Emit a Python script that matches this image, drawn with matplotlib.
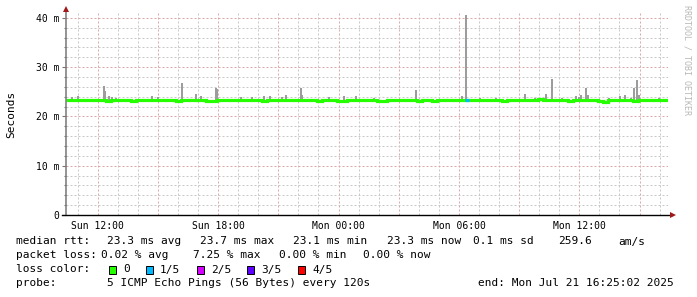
import numpy as np
import matplotlib
matplotlib.use("Agg")
import matplotlib.pyplot as plt
from matplotlib.patches import Rectangle

plt.rcParams['font.family'] = ['DejaVu Sans Mono', 'DejaVu Sans']
plt.rcParams['lines.scale_dashes'] = False

W, H = 697, 297

# time axis in hours since Sun 00:00 (Jul 20 2025)
start_h = 10.417   # Sun 10:25
end_h = 40.417     # Mon 16:25
step_h = 0.25      # median sampled every 15 min

median_ms = [
    23.3, 23.3, 23.3, 23.3, 23.3, 23.4, 23.3, 23.3, 23.2, 23.3, 23.3, 23.3,
    23.3, 23.2, 23.3, 23.3, 23.3, 23.3, 23.4, 23.3, 23.3, 23.3, 23.2, 23.3,
    23.3, 23.3, 23.3, 23.3, 23.2, 23.1, 23.3, 23.3, 23.3, 23.3, 23.3, 23.4,
    23.3, 23.3, 23.3, 23.2, 23.3, 23.3, 23.3, 23.3, 23.3, 23.4, 23.3, 23.3,
    23.3, 23.3, 23.2, 23.3, 23.3, 23.3, 23.2, 23.1, 23.3, 23.3, 23.3, 23.3,
    23.3, 23.3, 23.2, 23.1, 23.3, 23.3, 23.3, 23.3, 23.3, 23.3, 23.2, 23.3,
    23.3, 23.1, 23.3, 23.3, 23.3, 23.3, 23.3, 23.3, 23.4, 23.3, 23.3, 23.3,
    23.3, 23.3, 23.3, 23.2, 23.3, 23.3, 23.3, 23.3, 23.3, 23.4, 23.6, 23.3,
    23.3, 23.3, 23.3, 23.3, 23.2, 23.3, 23.3, 23.3, 23.3, 23.3, 23.2, 23.0,
    23.3, 23.3, 23.3, 23.3, 23.3, 23.2, 23.3, 23.3, 23.3, 23.3, 23.3, 23.3,
]

# smoke: max rtt peaks above the median
smoke_hours = [10.70, 11.00, 12.30, 12.35, 12.55, 12.70, 12.90, 14.69, 14.99,
               16.19, 16.88, 17.13, 17.88, 17.93, 19.13, 19.67, 20.27, 20.57,
               21.17, 21.37, 22.12, 22.17, 23.51, 24.26, 24.86, 25.75, 27.85,
               30.14, 30.34, 31.04, 31.83, 33.28, 33.78, 34.33, 34.62, 35.12,
               35.82, 35.97, 36.07, 36.32, 36.42, 37.46, 38.01, 38.26, 38.56,
               38.71, 38.86, 38.96, 39.96]
smoke_max_ms = [24.0, 24.2, 26.2, 25.2, 24.2, 24.0, 23.8, 24.2, 24.0,
                26.8, 24.6, 24.2, 25.8, 25.6, 24.0, 24.0, 24.2, 24.2,
                24.0, 24.4, 25.8, 24.4, 24.0, 24.2, 24.2, 23.8, 25.4,
                24.2, 40.6, 23.8, 23.8, 24.6, 23.8, 24.6, 27.6, 23.8,
                24.2, 24.0, 24.4, 25.8, 24.4, 23.8, 24.2, 24.4, 23.8,
                25.8, 27.4, 24.4, 23.8]

loss_hours = [30.40]
loss_count = [1]

loss_labels = ["0", "1/5", "2/5", "3/5", "4/5"]
loss_colors = ["#26ff00", "#00b8ff", "#d400ff", "#5e00ff", "#ff0000"]

xtick_hours = [12, 18, 24, 30, 36]
xtick_labels = ["Sun 12:00", "Sun 18:00", "Mon 00:00", "Mon 06:00", "Mon 12:00"]
ytick_ms = [0, 10, 20, 30, 40]
ytick_labels = ["0", "10 m", "20 m", "30 m", "40 m"]

fig = plt.figure(figsize=(W / 100, H / 100), dpi=100)
fig.patch.set_facecolor("white")
ax = fig.add_axes([66 / W, (H - 215) / H, 602 / W, 202 / H])
ax.set_xlim(start_h, end_h)
ax.set_ylim(0, 41.0)
for s in ax.spines.values():
    s.set_visible(False)

# grid
minor_c, major_c = "#c8c8c8", "#dca8a8"
for h in range(11, 41):
    ax.axvline(h, color=major_c if h % 3 == 0 else minor_c, lw=0.72,
               dashes=(1.44, 1.44), zorder=1)
for v in range(2, 41, 2):
    ax.axhline(v, color=major_c if v % 10 == 0 else minor_c, lw=0.72,
               dashes=(1.44, 1.44), zorder=1)

# smoke
smoke_base = 23.1
ax.bar(smoke_hours, np.array(smoke_max_ms) - smoke_base, bottom=smoke_base,
       width=0.1, color="#9c9c9c", lw=0, zorder=2)

# median
edges = start_h + step_h * np.arange(len(median_ms) + 1)
ax.stairs(median_ms, edges, baseline=None, color=loss_colors[0], lw=2.3, zorder=3)
for h, n in zip(loss_hours, loss_count):
    i = int((h - start_h) / step_h)
    ax.plot([h - 0.08, h + 0.08], [median_ms[i]] * 2, color=loss_colors[n],
            lw=2.3, solid_capstyle="butt", zorder=4)

# axes lines and arrows
ax.plot([start_h, start_h], [0, 41.6], color="#777777", lw=1.1, clip_on=False, zorder=5)
ax.plot([start_h - 0.2, end_h + 0.2], [0, 0], color="black", lw=1.0, clip_on=False, zorder=5)
ax.plot([start_h], [41.9], marker="^", ms=4, color="#a01818", mew=0, clip_on=False, zorder=6)
ax.plot([end_h + 0.25], [0], marker=">", ms=4, color="#a01818", mew=0, clip_on=False, zorder=6)

ax.set_yticks(ytick_ms, ytick_labels)
ax.set_yticks(range(2, 41, 2), minor=True)
ax.tick_params(axis="y", which="major", length=3, width=0.8, color="#777777",
               pad=1.5, labelsize=7)
ax.tick_params(axis="y", which="minor", length=1.5, width=0.8, color="#777777")
ax.set_xticks(xtick_hours, xtick_labels)
ax.tick_params(axis="x", length=0, pad=4, labelsize=7)

fig.text(11 / W, 1 - 114 / H, "Seconds", rotation=90, ha="center", va="center", fontsize=8)
fig.text(687 / W, 1 - 60 / H, "RRDTOOL / TOBI OETIKER", rotation=270, ha="center",
         va="center", fontsize=6, color="#b8b8b8")

def put(x, y, s):
    fig.text(x / W, 1 - y / H, s, ha="left", va="center", fontsize=8)

y1, y2, y3, y4 = 241.5, 255.5, 269.5, 283.5
put(16, y1, "median rtt:")
for x, s in zip([107, 200, 293, 387, 473, 558, 618],
                ["23.3 ms avg", "23.7 ms max", "23.1 ms min", "23.3 ms now",
                 "0.1 ms sd", "259.6", "am/s"]):
    put(x, y1, s)
put(16, y2, "packet loss:")
for x, s in zip([101, 193, 279, 363],
                ["0.02 % avg", "7.25 % max", "0.00 % min", "0.00 % now"]):
    put(x, y2, s)
put(16, y3, "loss color:")
for x, lab, col in zip([109, 146, 197, 247, 298], loss_labels, loss_colors):
    fig.patches.append(Rectangle((x / W, 1 - (y3 + 4) / H), 7 / W, 8 / H,
                                 transform=fig.transFigure, facecolor=col,
                                 edgecolor="black", lw=0.7))
    put(x + 14, y3, lab)
put(16, y4, "probe:")
put(107, y4, "5 ICMP Echo Pings (56 Bytes) every 120s")
put(478, y4, "end: Mon Jul 21 16:25:02 2025")

fig.savefig("out.png", dpi=100, facecolor="white")
